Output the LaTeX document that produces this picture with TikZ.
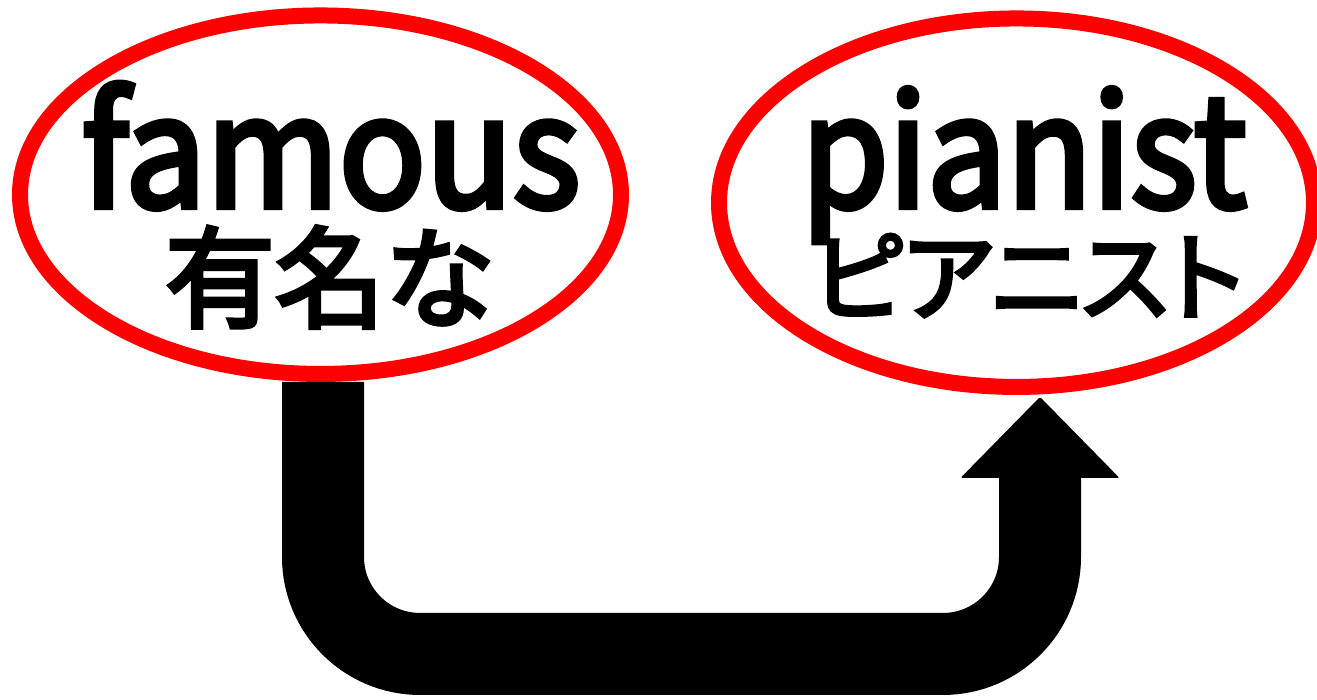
\documentclass[tikz,border=0pt]{standalone}
\usepackage{fontspec}
\usetikzlibrary{shapes.geometric}
\newfontfamily\jpfont{Noto Sans CJK JP}[FakeBold=4]
\newfontfamily\jppfont{Noto Sans CJK JP}[FakeBold=4,RawFeature=+palt]
\tikzset{
  oval/.style={ellipse, draw=red, line width=16pt, inner sep=0pt},
  word/.style={anchor=base, inner sep=0pt, font=\jpfont\fontsize{145}{145}\selectfont},
  gloss/.style={anchor=base, inner sep=0pt, font=\jpfont\fontsize{110}{110}\selectfont},
  glossp/.style={anchor=base, inner sep=0pt, font=\jppfont\fontsize{97}{97}\selectfont},
  conn/.style={draw=black, line width=82pt, rounded corners=97pt, line cap=butt},
  head/.style={fill=black, rounded corners=2pt}
}
\begin{document}
\begin{tikzpicture}[x=1pt,y=-1pt]
\useasboundingbox[fill=white] (0,0) rectangle (1317,699);
\node[oval, minimum width=601pt, minimum height=358.5pt] (famous) at (320.5,194.7) {};
\node[oval, minimum width=595pt, minimum height=368.5pt] (pianist) at (1016.5,202.7) {};
\node[word] (w1) at (331,207) {\scalebox{0.99}[1.06]{famous}};
\node[gloss] (g1) at (330,319) {有名な};
\node[word] (w2) at (1024,207) {\scalebox{0.97}[1.06]{pianist}};
\node[glossp] (g2) at (1028,313) {ピアニスト};
\coordinate (tip) at ([xshift=23.5pt,yshift=-2pt]pianist.south);
\coordinate (base) at ([yshift=-81pt]tip);
\draw[conn] ([xshift=2.5pt]famous.south) -- ++(0,272) -| (base);
\fill[head] ([xshift=-79.5pt]base) -- ([xshift=79.5pt]base) -- (tip) -- cycle;
\end{tikzpicture}
\end{document}
